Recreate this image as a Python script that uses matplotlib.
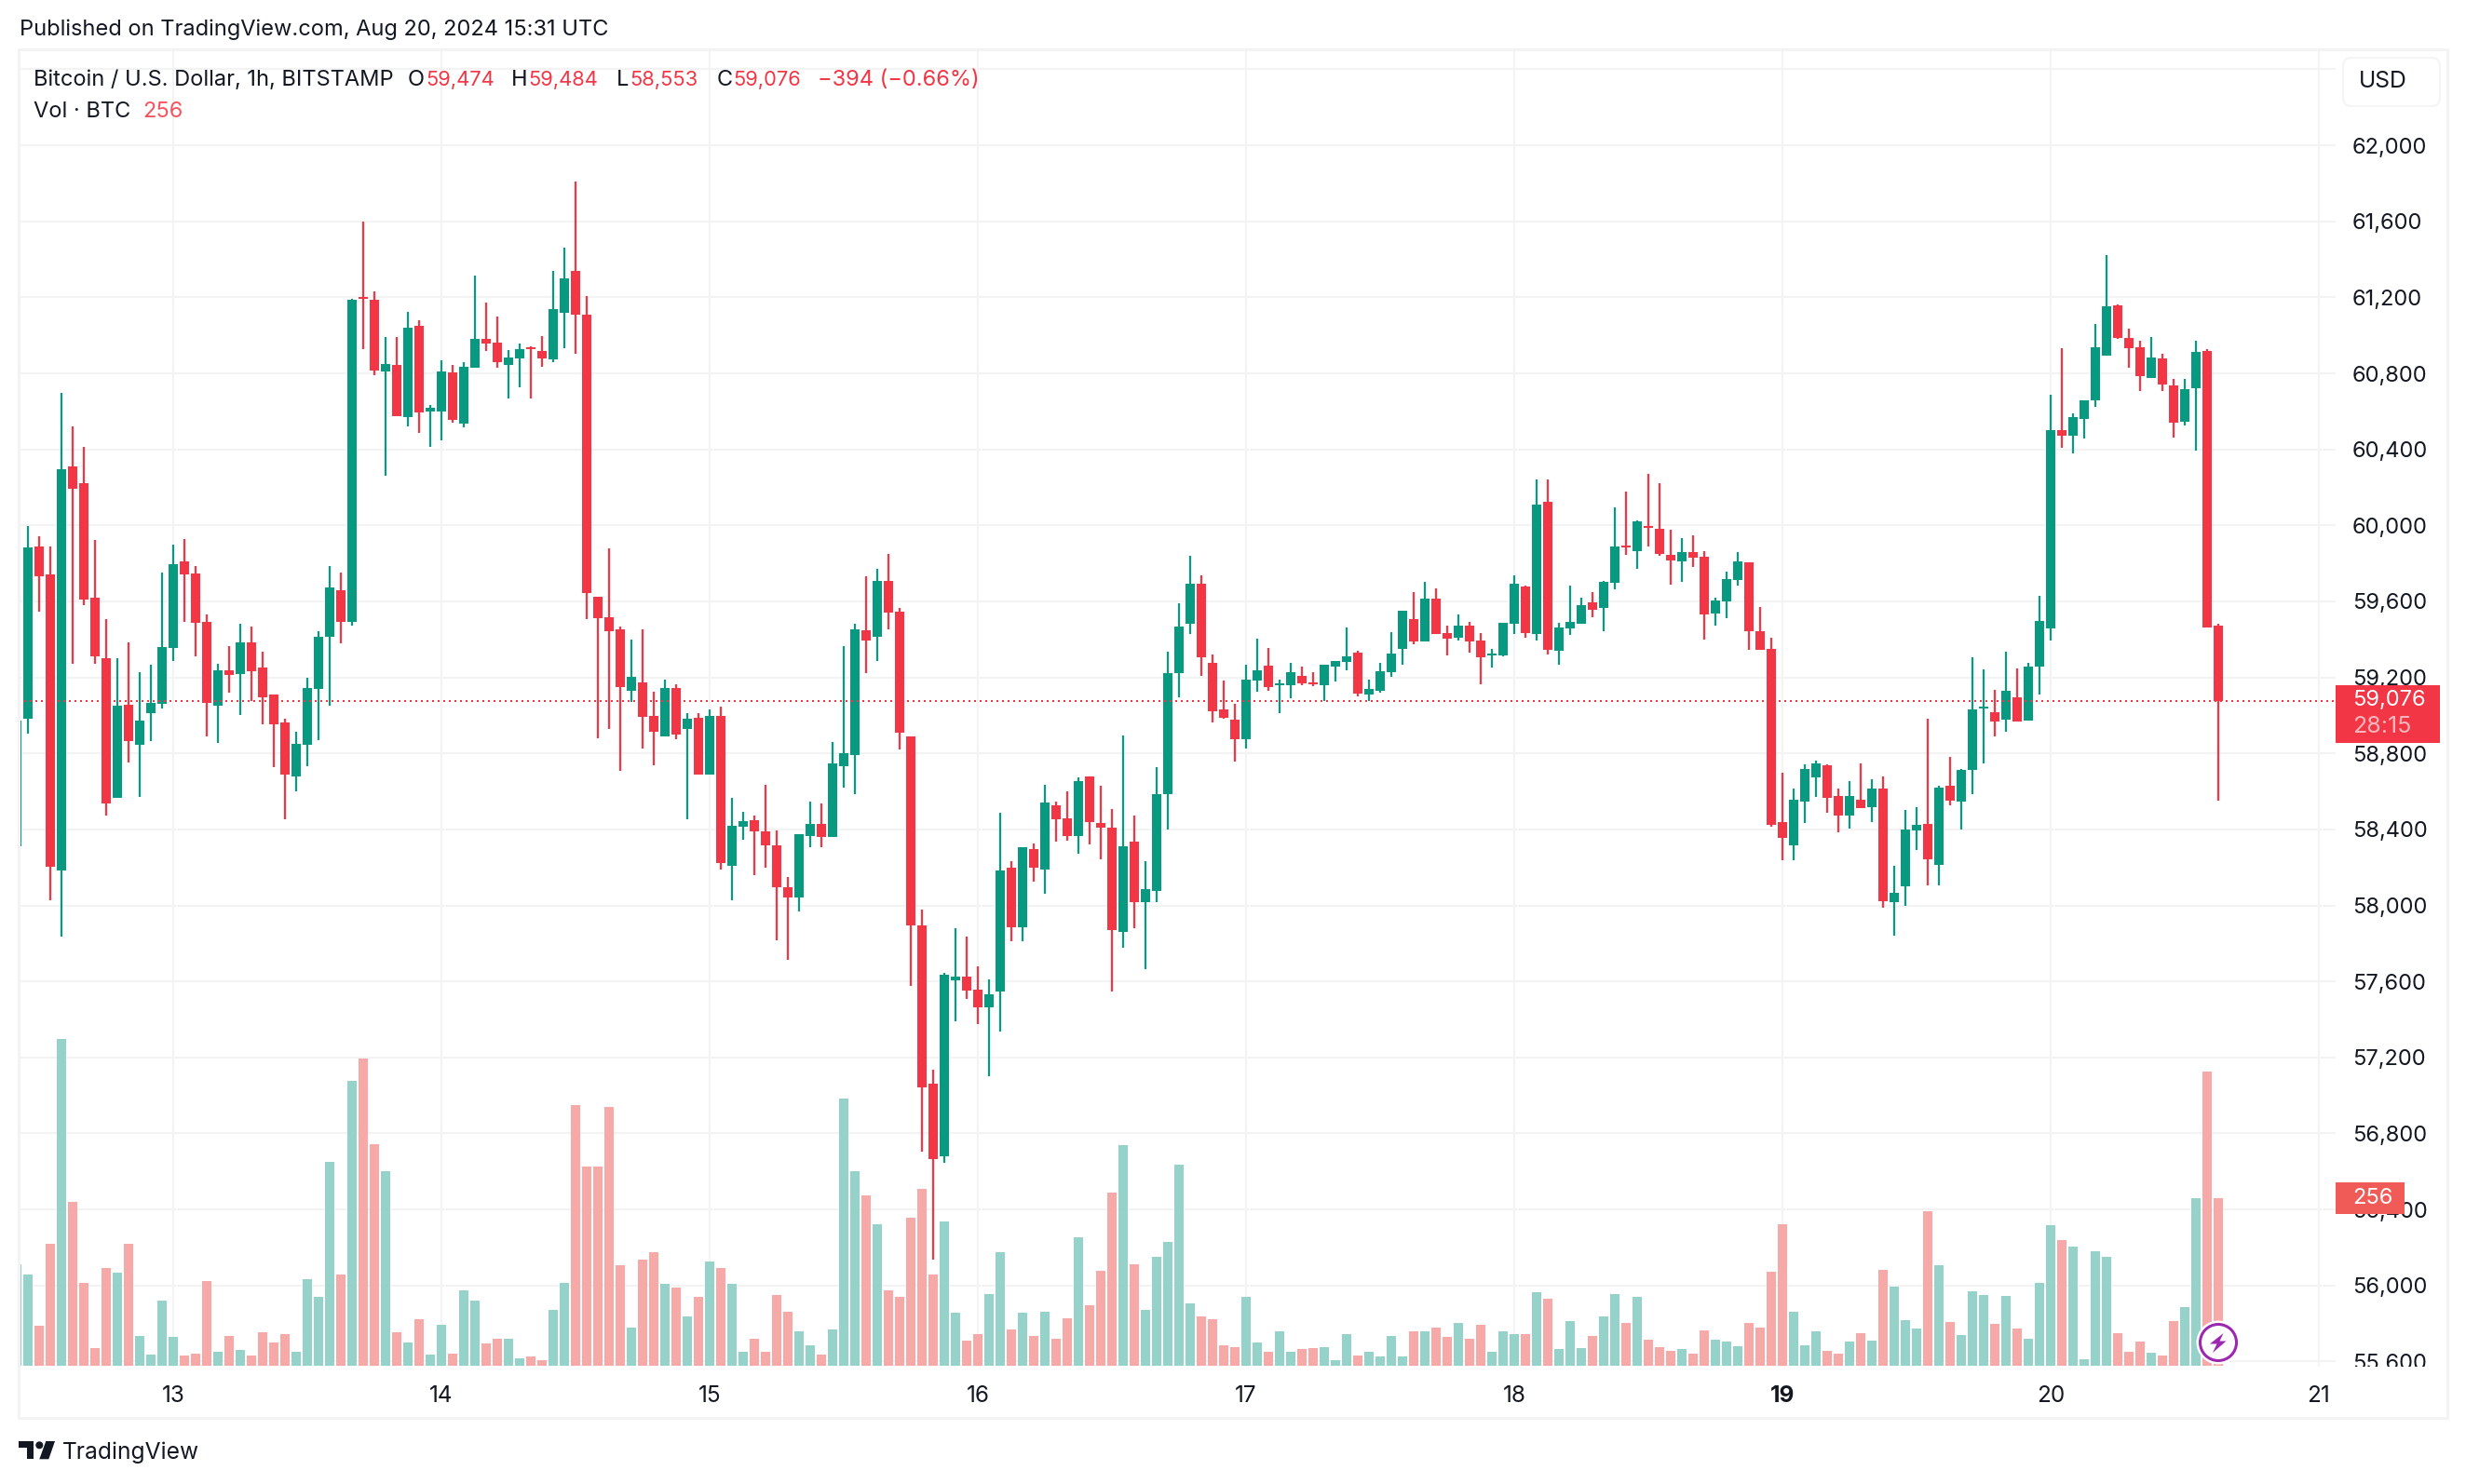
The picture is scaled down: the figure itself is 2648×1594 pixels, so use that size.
import matplotlib
matplotlib.use('Agg')
import matplotlib.pyplot as plt
from matplotlib.patches import Rectangle, FancyBboxPatch, Circle, Polygon
from matplotlib.transforms import Bbox, IdentityTransform

# 1h BTC/USD candles, hour offsets counted from Aug 13 00:00
first_hour = -14
opens = [58311, 58984, 59888, 59740, 58183, 60311, 60222, 59620, 59300, 58565, 59056, 58847, 59012, 59060,
         59355, 59809, 59747, 59493, 59053, 59239, 59218, 59383, 59252, 59111, 58964, 58678,
         58847, 59139, 59414, 59658, 59493, 61198, 61187, 60809, 60844, 60569, 61050, 60600,
         60600, 60806, 60534, 60830, 60981, 60960, 60844, 60878, 60933, 60919, 60875, 61119,
         61339, 61108, 59624, 59517, 59451, 59128, 59173, 58996, 58889, 59145, 58928, 58987,
         58689, 58996, 58208, 58413, 58447, 58388, 58315, 58096, 58042, 58366, 58427, 58360,
         58731, 58790, 59449, 59412, 59707, 59544, 58889, 57893, 57060, 56678, 57606, 57626,
         57555, 57463, 57547, 58197, 57885, 58295, 58188, 58526, 58458, 58366, 58678, 58433,
         58408, 57859, 58335, 58017, 58076, 58585, 59221, 59482, 59693, 59275, 59031, 58978,
         58875, 59183, 59262, 59158, 59158, 59207, 59174, 59158, 59256, 59281, 59330, 59109,
         59129, 59227, 59349, 59507, 59389, 59615, 59433, 59408, 59471, 59394, 59316, 59316,
         59482, 59678, 59428, 60124, 59340, 59457, 59482, 59594, 59566, 59697, 59893, 59864,
         59997, 59982, 59844, 59811, 59860, 59835, 59536, 59599, 59713, 59806, 59444, 59349,
         58439, 58316, 58546, 58672, 58737, 58575, 58472, 58555, 58517, 58615, 58017, 58100,
         58395, 58427, 58212, 58630, 58545, 58712, 59035, 59017, 58977, 59095, 58972, 59257,
         59457, 60500, 60472, 60560, 60657, 60895, 61157, 60987, 60937, 60775, 60877, 60737,
         60545, 60722, 60917, 59474]
closes = [58974, 59885, 59734, 58204, 60297, 60194, 59610, 59311, 58537, 59053, 58864, 58974, 59067, 59359,
          59795, 59740, 59486, 59067, 59239, 59215, 59383, 59232, 59094, 58953, 58689, 58850,
          59146, 59414, 59675, 59493, 61187, 61191, 60816, 60851, 60576, 61040, 60596, 60620,
          60809, 60555, 60833, 60981, 60957, 60857, 60885, 60926, 60926, 60878, 61139, 61301,
          61108, 59644, 59510, 59445, 59148, 59204, 58993, 58914, 59145, 58897, 58982, 58689,
          58996, 58222, 58419, 58442, 58388, 58315, 58096, 58042, 58374, 58427, 58360, 58745,
          58802, 59451, 59392, 59707, 59541, 58908, 57893, 57041, 56664, 57634, 57626, 57550,
          57463, 57530, 58183, 57885, 58307, 58197, 58540, 58453, 58366, 58653, 58439, 58408,
          57871, 58309, 58017, 58084, 58585, 59221, 59468, 59693, 59305, 59022, 58987, 58875,
          59188, 59237, 59150, 59169, 59227, 59169, 59164, 59267, 59286, 59310, 59115, 59139,
          59232, 59325, 59550, 59389, 59615, 59428, 59403, 59471, 59389, 59305, 59325, 59487,
          59692, 59433, 60108, 59346, 59463, 59492, 59580, 59555, 59703, 59888, 59885, 60021,
          59986, 59849, 59814, 59860, 59830, 59531, 59604, 59716, 59811, 59444, 59346, 58423,
          58355, 58556, 58717, 58747, 58565, 58472, 58575, 58512, 58615, 58022, 58065, 58400,
          58422, 58242, 58620, 58550, 58712, 59030, 59045, 58967, 59130, 58967, 59257, 59497,
          60500, 60472, 60570, 60657, 60937, 61152, 60987, 60932, 60785, 60882, 60742, 60540,
          60717, 60912, 59462, 59076]
highs = [58974, 59998, 59943, 59888, 60696, 60521, 60414, 59923, 59507, 59300, 59383, 59228, 59266, 59751,
         59899, 59929, 59785, 59531, 59273, 59366, 59483, 59469, 59335, 59111, 58984, 58916,
         59197, 59445, 59785, 59751, 61191, 61600, 61232, 60991, 60991, 61122, 61081, 60634,
         60868, 60844, 60858, 61315, 61174, 61098, 60923, 60957, 60943, 60995, 61339, 61462,
         61810, 61208, 59624, 59878, 59468, 59398, 59451, 59125, 59187, 59165, 59013, 59013,
         59029, 59046, 58565, 58492, 58473, 58633, 58394, 58149, 58374, 58546, 58537, 58861,
         59364, 59482, 59733, 59772, 59848, 59564, 58889, 57977, 57134, 57643, 57879, 57834,
         57679, 57609, 58487, 58233, 58307, 58326, 58633, 58546, 58599, 58672, 58678, 58630,
         58506, 58894, 58473, 58233, 58728, 59336, 59589, 59840, 59737, 59321, 59183, 59060,
         59267, 59403, 59354, 59188, 59275, 59256, 59227, 59267, 59286, 59463, 59340, 59188,
         59275, 59438, 59550, 59648, 59703, 59667, 59471, 59531, 59492, 59433, 59349, 59487,
         59737, 59683, 60241, 60241, 59487, 59683, 59618, 59648, 59708, 60095, 60179, 60026,
         60271, 60222, 59977, 59933, 59947, 59863, 59618, 59757, 59860, 59806, 59570, 59408,
         58698, 58614, 58742, 58762, 58742, 58615, 58655, 58747, 58662, 58677, 58207, 58502,
         58517, 58982, 58630, 58782, 58717, 59305, 59242, 59135, 59335, 59247, 59277, 59630,
         60687, 60932, 60590, 60657, 61060, 61422, 61162, 61035, 60972, 60990, 60902, 60770,
         60770, 60972, 60927, 59484]
lows = [58311, 58905, 59544, 58029, 57836, 59273, 59579, 59273, 58472, 58565, 58754, 58572, 58864, 59036,
        59287, 59493, 59311, 58888, 58854, 59118, 59001, 59077, 58953, 58727, 58455, 58599,
        58733, 58871, 59053, 59379, 59472, 60926, 60789, 60263, 60576, 60521, 60486, 60414,
        60448, 60541, 60517, 60830, 60919, 60830, 60668, 60727, 60668, 60833, 60858, 60933,
        60902, 59507, 58881, 58929, 58709, 59069, 58824, 58737, 58889, 58875, 58453, 58689,
        58689, 58188, 58025, 58346, 58157, 58197, 57814, 57713, 57966, 58307, 58307, 58360,
        58619, 58585, 59221, 59285, 59451, 58821, 57575, 56703, 56135, 56644, 57389, 57508,
        57375, 57100, 57336, 57811, 57811, 58124, 58062, 58335, 58340, 58270, 58321, 58242,
        57547, 57778, 57879, 57662, 58017, 58399, 59094, 59429, 59207, 58962, 58981, 58757,
        58826, 59125, 59128, 59011, 59090, 59158, 59153, 59076, 59177, 59237, 59100, 59076,
        59120, 59202, 59267, 59373, 59389, 59428, 59316, 59394, 59330, 59163, 59251, 59310,
        59428, 59408, 59394, 59321, 59267, 59423, 59482, 59517, 59443, 59664, 59844, 59771,
        59888, 59839, 59688, 59703, 59781, 59398, 59472, 59512, 59683, 59346, 59346, 58414,
        58238, 58238, 58434, 58570, 58487, 58385, 58405, 58512, 58437, 57987, 57842, 57997,
        58292, 58105, 58105, 58527, 58400, 58585, 58747, 58890, 58915, 58967, 58972, 59110,
        59395, 60407, 60377, 60457, 60622, 60895, 60982, 60830, 60707, 60775, 60707, 60462,
        60525, 60392, 59462, 58553]
volumes = [155, 140, 61, 186, 500, 250, 126, 27, 150, 142, 187, 45, 17, 100,
           44, 15, 19, 129, 21, 46, 24, 15, 51, 36, 48, 21,
           133, 106, 312, 140, 436, 470, 338, 298, 51, 36, 71, 17,
           62, 18, 115, 100, 34, 42, 41, 12, 14, 9, 86, 126,
           398, 304, 304, 396, 153, 58, 162, 173, 125, 119, 76, 106,
           159, 149, 125, 22, 41, 21, 108, 82, 52, 32, 17, 56,
           409, 297, 260, 216, 115, 106, 226, 271, 140, 221, 81, 39,
           48, 110, 173, 55, 81, 45, 83, 41, 72, 196, 93, 145,
           264, 337, 155, 86, 167, 189, 308, 95, 75, 71, 32, 28,
           105, 36, 22, 52, 22, 25, 27, 28, 9, 48, 15, 22,
           14, 45, 14, 52, 52, 58, 44, 65, 41, 62, 22, 52,
           48, 48, 112, 102, 25, 69, 27, 46, 75, 110, 65, 105,
           40, 28, 23, 26, 18, 54, 40, 37, 30, 65, 58, 144,
           216, 82, 31, 53, 23, 18, 37, 50, 38, 146, 121, 70,
           57, 236, 154, 67, 47, 114, 108, 64, 107, 57, 41, 127,
           215, 192, 182, 10, 175, 166, 50, 21, 37, 20, 16, 68,
           90, 256, 449, 256]

price_ticks = [55600, 56000, 56400, 56800, 57200, 57600, 58000, 58400, 58800, 59200, 59600, 60000, 60400, 60800, 61200, 61600, 62000, 62400]
day_labels = ['13', '14', '15', '16', '17', '18', '19', '20', '21']
day_hours = [0, 24, 48, 72, 96, 120, 144, 168, 192]
last_price = 59076
last_volume = 256

UP = '#089981'
DOWN = '#F23645'
UP_VOL = '#94D2CA'
DOWN_VOL = '#F7A9A7'
GRID = '#F3F3F4'
TEXT = '#131722'
PURPLE = '#9C27B0'
FONT = 'Inter'

W, H = 2648, 1594
plt.rcParams['font.family'] = [FONT, 'DejaVu Sans']
fig = plt.figure(figsize=(W / 100, H / 100), dpi=100, facecolor='white')


# pixel helpers, y counted from the top of the image like in the reference
def fx(x):
    return x / W


def fy(y):
    return 1 - y / H


def label(x, y, s, color=TEXT, size=17, ha='left', **kw):
    return fig.text(fx(x), fy(y), s, color=color, fontsize=size, ha=ha, va='center', zorder=12, **kw)


def px_shape(points, color=TEXT, z=12):
    fig.add_artist(Polygon([(x, H - y) for x, y in points], closed=True, facecolor=color, edgecolor='none',
                           transform=IdentityTransform(), zorder=z))


rect = [fx(20), fy(1468), (2508 - 20) / W, (1468 - 53) / H]
ax = fig.add_axes(rect)
ax_vol = ax.twinx()
ax_candle = ax.twinx()
ax.set_zorder(0)
ax_vol.set_zorder(1)
ax_candle.set_zorder(2)

hours = [first_hour + i for i in range(len(opens))]
xlim = ((20 - 186) / 12, (2508 - 186) / 12)
ylim = (61200 - (1468 - 319.4) * 4.8996, 61200 + (319.4 - 53) * 4.8996)

for a in (ax, ax_vol, ax_candle):
    a.set_xlim(xlim)
    for s in a.spines.values():
        s.set_visible(False)
ax.set_ylim(ylim)
ax_candle.set_ylim(ylim)
ax_vol.set_ylim(-1.4, 1.4 + 1.422 * 1414)
ax_vol.patch.set_visible(False)
ax_candle.patch.set_visible(False)
ax_vol.set_yticks([])
ax_candle.set_yticks([])
ax_vol.tick_params(bottom=False, labelbottom=False)
ax_candle.tick_params(bottom=False, labelbottom=False)

# grid and axis labels
ax.yaxis.tick_right()
ax.set_yticks(price_ticks)
ax.set_yticklabels([f'{p:,}' if p < 62400 else '' for p in price_ticks])
ax.set_xticks(day_hours)
ax.set_xticklabels(day_labels)
ax.grid(True, color=GRID, linewidth=1.5)
ax.set_axisbelow(True)
ax.tick_params(axis='y', length=0, pad=13, labelsize=17, labelcolor=TEXT)
ax.tick_params(axis='x', length=0, pad=14.5, labelsize=17.5, labelcolor=TEXT)
ax.get_xticklabels()[6].set_fontweight('bold')
# the lowest price label is cut off at the bottom of the plot
strip = Bbox.from_extents(2508, H - 1468, W, H)
for t in ax.get_yticklabels():
    t.set_clip_box(strip)
    t.set_clip_on(True)

# volume
vol_colors = [UP_VOL if c >= o else DOWN_VOL for o, c in zip(opens, closes)]
ax_vol.bar(hours, volumes, width=0.84, color=vol_colors, linewidth=0)

# candles
colors = [UP if c >= o else DOWN for o, c in zip(opens, closes)]
ax_candle.vlines(hours, lows, highs, colors=colors, linewidth=1.6)
body_low = [min(o, c) for o, c in zip(opens, closes)]
body_size = [max(abs(c - o), 10) for o, c in zip(opens, closes)]
ax_candle.bar(hours, body_size, bottom=body_low, width=0.84, color=colors, linewidth=0)
ax_candle.axhline(last_price, color=DOWN, linewidth=1.44, linestyle=(0, (1, 2)))

# outer frame
fig.add_artist(Rectangle((fx(20), fy(1523)), (2628 - 20) / W, (1523 - 53) / H, fill=False,
                         edgecolor=GRID, linewidth=2.2, transform=fig.transFigure, zorder=5))

# header
label(21, 32, 'Published on TradingView.com, Aug 20, 2024 15:31 UTC')
label(36, 86, 'Bitcoin / U.S. Dollar, 1h, BITSTAMP')
for x, s, c, size in [(438, 'O', TEXT, 17), (457, '59,474', DOWN, 15.8), (549, 'H', TEXT, 17), (567, '59,484', DOWN, 15.8),
                      (662, 'L', TEXT, 17), (676, '58,553', DOWN, 15.8), (770, 'C', TEXT, 17), (787, '59,076', DOWN, 15.8),
                      (878, '\u2212394 (\u22120.66%)', DOWN, 17)]:
    label(x, 86, s, c, size=size)
label(36, 120, 'Vol \u00b7 BTC')
label(153, 120, f'{last_volume}', '#F7525F')

# last price and volume tags
fig.add_artist(Rectangle((fx(2508), fy(798)), (2620 - 2508) / W, (798 - 736) / H, facecolor=DOWN,
                         edgecolor='none', transform=fig.transFigure, zorder=10))
label(2526, 752, f'{last_price:,}', 'white')
label(2526, 780, '28:15', '#F9B7BD', size=18)
fig.add_artist(Rectangle((fx(2508), fy(1304)), (2582 - 2508) / W, (1304 - 1270) / H, facecolor='#F15B57',
                         edgecolor='none', transform=fig.transFigure, zorder=10))
label(2526, 1287, f'{last_volume}', 'white')

# USD button
box = FancyBboxPatch((2516, H - 114), 104, 52, boxstyle='round,pad=0,rounding_size=9', facecolor='white',
                     edgecolor=GRID, linewidth=1.3, transform=IdentityTransform(), zorder=10)
fig.add_artist(box)
label(2559, 87.5, 'USD', ha='center', size=17.8)

# lightning marker on the last bar
fig.add_artist(Circle((2382, H - 1442), 23.5, facecolor='white', edgecolor='none', transform=IdentityTransform(), zorder=10))
fig.add_artist(Circle((2382, H - 1442), 19.5, facecolor='white', edgecolor=PURPLE, linewidth=2.2,
                      transform=IdentityTransform(), zorder=11))
px_shape([(2387.5, 1432), (2373, 1443.5), (2380.5, 1443.5), (2376, 1453), (2390.5, 1440.5), (2383.5, 1440.5)], PURPLE)

# TradingView logo
px_shape([(20, 1548), (35.7, 1548), (35.7, 1567.3), (29, 1567.3), (29, 1555), (20, 1555)])
px_shape([(49.3, 1548), (59, 1548), (52.3, 1567.3), (42.3, 1567.3)])
fig.add_artist(Circle((42.3, H - 1552.3), 4, facecolor=TEXT, edgecolor='none', transform=IdentityTransform(), zorder=12))
label(67, 1560, 'TradingView', size=17.7)

fig.savefig('out.png', dpi=100)
